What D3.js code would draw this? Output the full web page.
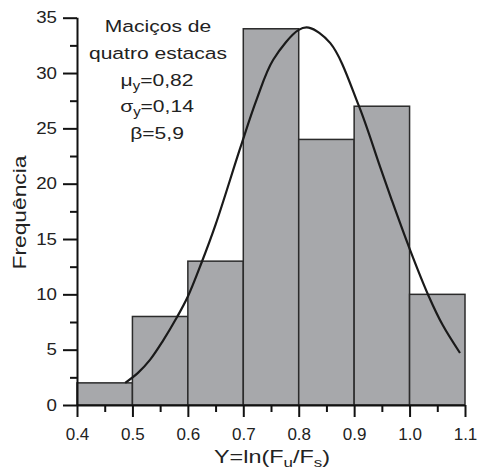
<!DOCTYPE html>
<html>
<head>
<meta charset="utf-8">
<script src="https://cdn.jsdelivr.net/npm/d3@7"></script>
<style>
  body { margin: 0; background: #fff; }
  svg { display: block; font-family: "Liberation Sans", Arial, sans-serif; }
</style>
</head>
<body>
<svg id="chart" width="479" height="468"></svg>
<script>
// histogram classes (lower edge) and counts
const binStart = [0.4, 0.5, 0.6, 0.7, 0.8, 0.9, 1.0];
const counts = [2, 8, 13, 34, 24, 27, 10];
const binWidth = 0.1;

// fitted curve
const curveX = [0.487, 0.51, 0.532, 0.555, 0.58, 0.60, 0.625, 0.65, 0.695, 0.724, 0.754, 0.80, 0.818, 0.857, 0.908, 0.947, 0.968, 1.001, 1.034, 1.06, 1.091];
const curveY = [2.0, 2.9, 4.1, 5.8, 7.9, 9.8, 12.9, 16.3, 23.3, 27.6, 31.2, 33.9, 34.1, 32.7, 27.1, 21.5, 18.5, 14.0, 9.9, 7.2, 4.7];

const xTicks = [0.4, 0.5, 0.6, 0.7, 0.8, 0.9, 1.0, 1.1];
const xMinor = [0.45, 0.55, 0.65, 0.75, 0.85, 0.95, 1.05];
const yTicks = [0, 5, 10, 15, 20, 25, 30, 35];
const yMinor = [2.5, 7.5, 12.5, 17.5, 22.5, 27.5, 32.5];

const svg = d3.select('svg#chart');
const x = d3.scaleLinear().domain([0.4, 1.1]).range([77, 465]);
const y = d3.scaleLinear().domain([0, 35]).range([405, 17.7]);

// bars
svg.append('g').selectAll('rect').data(binStart)
  .enter().append('rect')
    .attr('x', d => x(d))
    .attr('y', (d, i) => y(counts[i]))
    .attr('width', d => x(d + binWidth) - x(d))
    .attr('height', (d, i) => y(0) - y(counts[i]))
    .style('fill', '#a7a8ab')
    .style('stroke', '#2b2b2b')
    .style('stroke-width', 1.5);

// curve
const line = d3.line()
  .x(d => x(d[0]))
  .y(d => y(d[1]))
  .curve(d3.curveCatmullRom);
svg.append('path')
  .datum(curveX.map((v, i) => [v, curveY[i]]))
  .attr('d', line)
  .style('fill', 'none')
  .style('stroke', '#1a1a1a')
  .style('stroke-width', 2.2);

// axes
const yAxis = svg.append('g')
  .attr('transform', `translate(${x(0.4)},0)`)
  .call(d3.axisLeft(y).tickValues(yTicks).tickSize(14).tickPadding(6).tickFormat(d3.format('d')));
svg.append('g')
  .attr('transform', `translate(${x(0.4)},0)`)
  .call(d3.axisLeft(y).tickValues(yMinor).tickSize(7).tickFormat(''))
  .select('.domain').remove();

const xAxis = svg.append('g')
  .attr('transform', `translate(0,${y(0)})`)
  .call(d3.axisBottom(x).tickValues(xTicks).tickSize(12).tickPadding(11).tickFormat(d3.format('.1f')));
svg.append('g')
  .attr('transform', `translate(0,${y(0)})`)
  .call(d3.axisBottom(x).tickValues(xMinor).tickSize(7).tickFormat(''))
  .select('.domain').remove();

yAxis.select('.domain').attr('d', `M0.5,${y(35)}V${y(0)}`);
xAxis.select('.domain').attr('d', `M${x(0.4)},0.5H${x(1.1)}`);

svg.selectAll('.tick line, .domain')
  .style('stroke', '#111')
  .style('stroke-width', 2);

yAxis.selectAll('text')
  .style('font-size', '16px')
  .style('fill', '#222')
  .attr('x', -20 / 1.17)
  .attr('transform', 'scale(1.17,1)');
xAxis.selectAll('text')
  .style('font-size', '17px')
  .style('fill', '#222');

// axis titles
svg.append('text')
  .attr('transform', 'translate(26,212.5) rotate(-90) scale(1.2,1)')
  .attr('text-anchor', 'middle')
  .style('font-size', '19px')
  .style('fill', '#222')
  .text('Frequência');

const xt = svg.append('text')
  .attr('transform', 'translate(272,462.5) scale(1.3,1)')
  .attr('text-anchor', 'middle')
  .style('font-size', '18px')
  .style('fill', '#222');
xt.append('tspan').text('Y=ln(F');
xt.append('tspan').attr('dy', 4).style('font-size', '13px').text('u');
xt.append('tspan').attr('dy', -4).text('/F');
xt.append('tspan').attr('dy', 4).style('font-size', '13px').text('s');
xt.append('tspan').attr('dy', -4).text(')');

// annotation
const titleLines = ['Maciços de', 'quatro estacas'];
const statSymbols = ['μ', 'σ'];
const statValues = ['=0,82', '=0,14'];
const betaText = 'β=5,9';

const note = svg.append('g').style('fill', '#222').style('font-size', '17px');
titleLines.forEach((t, i) => {
  note.append('text')
    .attr('transform', `translate(158,${32 + i * 26.8}) scale(1.24,1)`)
    .attr('text-anchor', 'middle')
    .text(t);
});
statSymbols.forEach((s, i) => {
  const t = note.append('text')
    .attr('transform', `translate(157,${85.5 + i * 26.5}) scale(1.24,1)`)
    .attr('text-anchor', 'middle');
  t.append('tspan').text(s);
  t.append('tspan').attr('dy', 4).style('font-size', '12px').text('y');
  t.append('tspan').attr('dy', -4).text(statValues[i]);
});
note.append('text')
  .attr('transform', 'translate(157,138.5) scale(1.24,1)')
  .attr('text-anchor', 'middle')
  .text(betaText);
</script>
</body>
</html>
